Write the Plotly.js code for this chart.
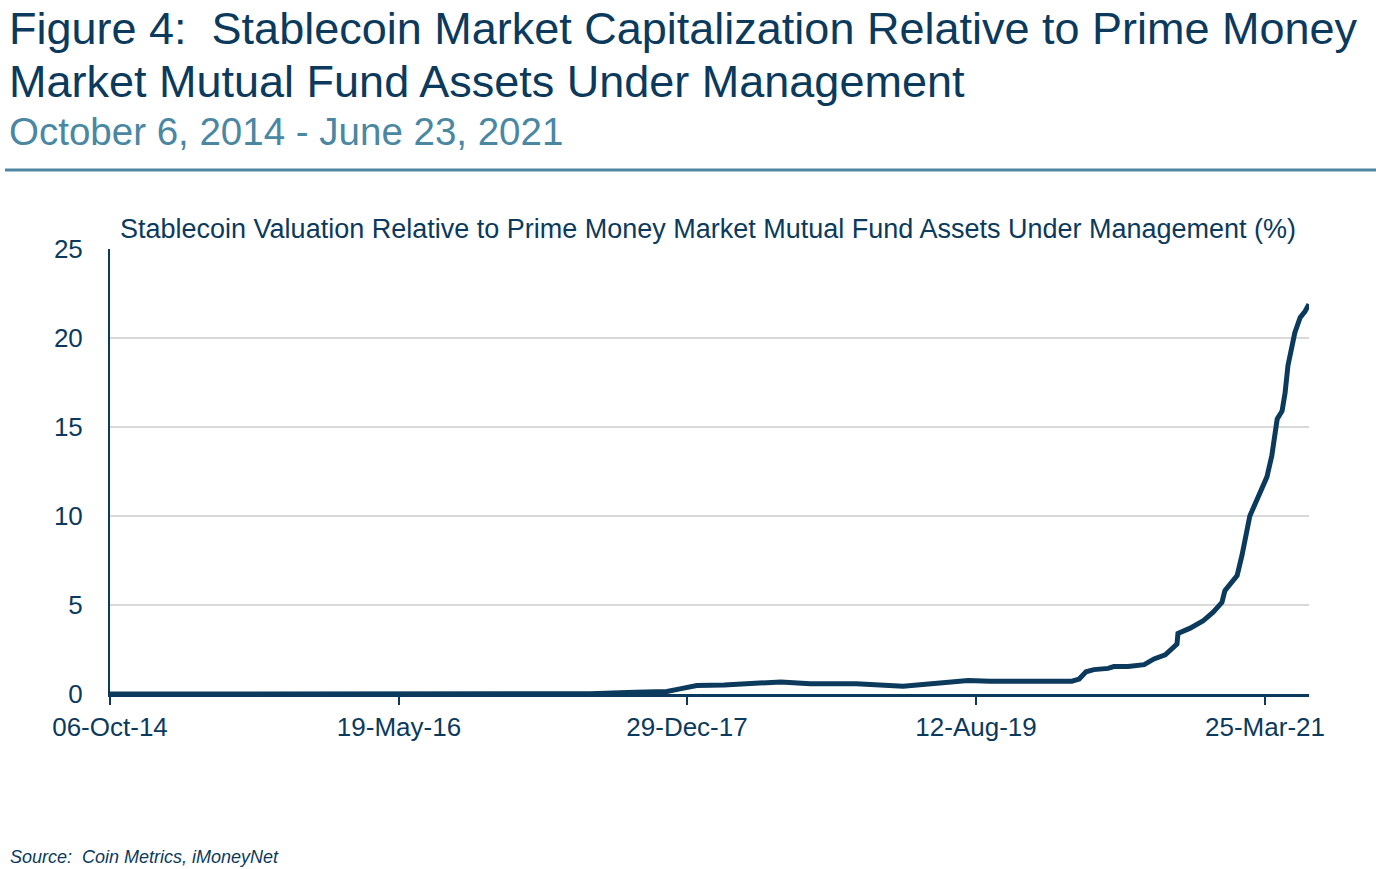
<!DOCTYPE html>
<html>
<head>
<meta charset="utf-8">
<script src="https://cdn.plot.ly/plotly-3.0.1.min.js"></script>
<style>html,body{margin:0;padding:0;background:#fff;}#chart{width:1376px;height:869px;}</style>
</head>
<body>
<div id="chart"></div>
<script>
// Data
var dates = [
  "2014-10-06","2015-06-01","2016-05-19","2017-06-14","2017-09-14","2017-11-18","2017-12-17",
  "2018-01-18","2018-03-15","2018-05-19","2018-07-09","2018-09-07","2018-12-10","2019-03-16",
  "2019-05-20","2019-07-27","2019-09-10","2020-01-12","2020-02-24","2020-03-10","2020-03-24",
  "2020-04-09","2020-05-08","2020-05-20","2020-06-18","2020-07-21","2020-08-10","2020-09-02",
  "2020-09-26","2020-09-28","2020-10-23","2020-11-18","2020-12-09","2020-12-27","2021-01-02",
  "2021-01-27","2021-02-06","2021-02-22","2021-03-19","2021-03-29","2021-04-08","2021-04-19",
  "2021-04-29","2021-05-05","2021-05-11","2021-05-21","2021-05-25","2021-06-05","2021-06-15",
  "2021-06-23"
];
var ratioPct = [
  0.0,0.0,0.0,0.02,0.1,0.14,0.3,
  0.48,0.5,0.6,0.68,0.58,0.58,0.44,
  0.6,0.76,0.72,0.75,0.72,0.84,1.25,
  1.37,1.44,1.54,1.55,1.65,1.97,2.2,
  2.8,3.4,3.7,4.1,4.6,5.15,5.8,
  6.65,7.8,10.0,11.7,12.2,13.4,15.45,
  15.9,16.9,18.45,19.75,20.3,21.15,21.5,
  21.9
];
var tickDates = ["2014-10-06","2016-05-19","2017-12-29","2019-08-12","2021-03-25"];
var yTicks = [0,5,10,15,20,25];

var navy = "#0b3a5c";
var FONT = "Arial, 'Liberation Sans', sans-serif";

// plot area in pixels: x 110..1309, y 249..694
var L = 110, R = 1309, T = 249, B = 694;
function px(x){ return (x - L) / (R - L); }
function py(y){ return (B - y) / (B - T); }

var trace = {
  x: dates, y: ratioPct, type: "scatter", mode: "lines",
  line: {color: navy, width: 5, shape: "linear"},
  hoverinfo: "x+y"
};

var layout = {
  width: 1376, height: 869,
  margin: {l: L, r: 1376 - R, t: T, b: 869 - B, pad: 0},
  paper_bgcolor: "#fff", plot_bgcolor: "#fff",
  showlegend: false,
  font: {family: FONT, color: navy},
  xaxis: {
    type: "date", range: ["2014-10-06", "2021-06-23"],
    tickvals: tickDates, tickformat: "%d-%b-%y",
    showgrid: false, zeroline: false,
    showline: true, linecolor: navy, linewidth: 3,
    ticks: "outside", ticklen: 8, tickwidth: 1.5, tickcolor: navy,
    tickfont: {family: FONT, size: 26, color: navy}
  },
  yaxis: {
    range: [0, 25], tickvals: yTicks,
    showgrid: true, gridcolor: "#d9d9d9", gridwidth: 2,
    zeroline: false,
    showline: true, linecolor: navy, linewidth: 2,
    ticks: "", ticklabelstandoff: 20,
    tickfont: {family: FONT, size: 26, color: navy}
  },
  shapes: [
    {type: "line", xref: "paper", yref: "paper",
     x0: px(5), x1: px(1376), y0: py(170), y1: py(170),
     line: {color: "#4f87a2", width: 3}}
  ],
  annotations: [
    {xref: "paper", yref: "paper", x: px(7), y: py(1), xanchor: "left", yanchor: "top",
     text: "Figure 4:  Stablecoin Market Capitalization Relative to Prime Money", showarrow: false,
     font: {family: FONT, size: 45, color: navy}},
    {xref: "paper", yref: "paper", x: px(7), y: py(54), xanchor: "left", yanchor: "top",
     text: "Market Mutual Fund Assets Under Management", showarrow: false,
     font: {family: FONT, size: 45, color: navy}},
    {xref: "paper", yref: "paper", x: px(7), y: py(108), xanchor: "left", yanchor: "top",
     text: "October 6, 2014 - June 23, 2021", showarrow: false,
     font: {family: FONT, size: 38.5, color: "#4a87a3"}},
    {xref: "paper", yref: "paper", x: px(708), y: py(229), xanchor: "center", yanchor: "middle",
     text: "Stablecoin Valuation Relative to Prime Money Market Mutual Fund Assets Under Management (%)", showarrow: false,
     font: {family: FONT, size: 27, color: navy}},
    {xref: "paper", yref: "paper", x: px(8), y: py(857), xanchor: "left", yanchor: "middle",
     text: "<i>Source:  Coin Metrics, iMoneyNet</i>", showarrow: false,
     font: {family: FONT, size: 18, color: navy}}
  ]
};

Plotly.newPlot("chart", [trace], layout, {displayModeBar: false, staticPlot: true});
</script>
</body>
</html>
